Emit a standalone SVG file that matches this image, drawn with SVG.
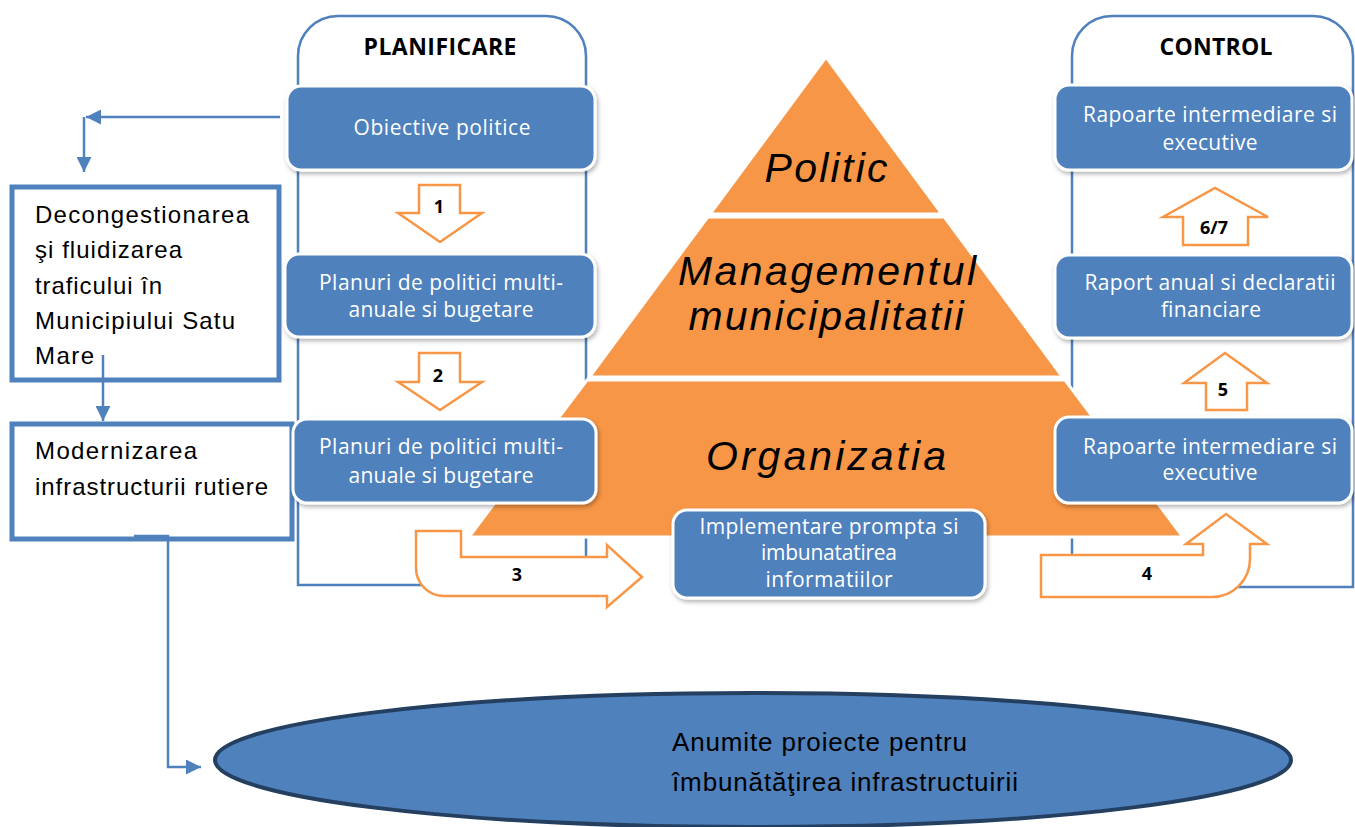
<svg xmlns="http://www.w3.org/2000/svg" width="1355" height="827" viewBox="0 0 1355 827">
<defs>
<style>
.cont{fill:#fff;stroke:#4F81BD;stroke-width:2.5}
.layer{fill:#F79646;stroke:#fff;stroke-width:3}
.barrow{fill:#fff;stroke:#F79646;stroke-width:2.5;stroke-linejoin:miter}
.box{fill:#4F81BD;stroke:#fff;stroke-width:3;filter:url(#sh)}
.bt{font-family:"Open Sans","Liberation Sans",sans-serif;font-size:21px;fill:#fff;text-anchor:middle}
.hd{font-family:"Open Sans","Liberation Sans",sans-serif;font-size:23px;font-weight:700;fill:#000;text-anchor:middle}
.num{font-family:"Open Sans","Liberation Sans",sans-serif;font-size:18px;font-weight:700;fill:#000;text-anchor:middle}
.pt{font-family:"Liberation Sans",sans-serif;font-style:italic;font-size:41px;fill:#000;text-anchor:middle}
.lt{font-family:"Liberation Sans",Arial,sans-serif;font-size:24px;fill:#000}
.et{font-family:"Liberation Sans",Arial,sans-serif;font-size:26px;fill:#000}
.lbox{fill:#fff;stroke:#4F81BD;stroke-width:5}
.con{fill:none;stroke:#4F81BD;stroke-width:2.5}
</style>
<filter id="sh" x="-10%" y="-10%" width="125%" height="135%">
<feDropShadow dx="1.5" dy="2.5" stdDeviation="2" flood-color="#000" flood-opacity="0.3"/>
</filter>
<marker id="ah" viewBox="0 0 10 10" refX="10" refY="5" markerWidth="6" markerHeight="6" markerUnits="strokeWidth" orient="auto">
<path d="M0,0 L10,5 L0,10 Z" fill="#4F81BD"/>
</marker>
</defs>

<g id="planificare">
<path class="cont" d="M298,585 V56 A40,40 0 0 1 338,16 H546 A40,40 0 0 1 586,56 V585 Z"/>
<text class="hd" x="440" y="55" textLength="153">PLANIFICARE</text>
</g>
<g id="control">
<path class="cont" d="M1072,587 V56 A40,40 0 0 1 1112,16 H1313 A40,40 0 0 1 1353,56 V587 Z"/>
<text class="hd" x="1216" y="55" textLength="113">CONTROL</text>
</g>

<g id="pyramid">
<polygon class="layer" points="826,57 942,214 710,214"/>
<polygon class="layer" points="707.7,217 944.3,217 1062.6,377 589.4,377"/>
<polygon class="layer" points="587,380 1065,380 1183,537 469,537"/>
<text class="pt" x="826" y="182" textLength="123">Politic</text>
<text class="pt" x="827" y="285" textLength="298">Managementul</text>
<text class="pt" x="826" y="330" textLength="275">municipalitatii</text>
<text class="pt" x="826" y="470" textLength="240">Organizatia</text>
</g>

<g id="decongestionarea">
<rect class="lbox" x="12" y="187" width="267" height="193"/>
<text class="lt" x="35" y="223" textLength="214">Decongestionarea</text>
<text class="lt" x="35" y="258" textLength="147">şi fluidizarea</text>
<text class="lt" x="35" y="294" textLength="127">traficului în</text>
<text class="lt" x="35" y="329" textLength="200">Municipiului Satu</text>
<text class="lt" x="35" y="364" textLength="59">Mare</text>
</g>

<g id="modernizarea">
<rect class="lbox" x="12" y="424" width="280" height="115"/>
<text class="lt" x="35" y="459" textLength="162">Modernizarea</text>
<text class="lt" x="35" y="495" textLength="233">infrastructurii rutiere</text>
</g>

<g id="connectors">
<path class="con" d="M280,117 H86" marker-end="url(#ah)"/>
<path class="con" d="M84,117 V172" marker-end="url(#ah)"/>
<path class="con" d="M103,355 V421" marker-end="url(#ah)"/>
<path class="con" d="M134,536 H168 V767 H201" marker-end="url(#ah)"/>
<path class="barrow" d="M419,185 H460 V213 H482 L440,242 L398,213 H419 Z"/>
<path class="barrow" d="M419,353 H460 V382 H482 L440,410 L398,382 H419 Z"/>
<path class="barrow" d="M416,531 H461 V557 H607 V545 L642,577 L607,607 V596 H444 A28,28 0 0 1 416,568 Z"/>
<path class="barrow" d="M1041,555 H1203 V544 H1186 L1226,514 L1267,544 H1250 V559 A38,38 0 0 1 1212,597 H1041 Z"/>
<path class="barrow" d="M1206,410 V383 H1184 L1225,353 L1267,383 H1247 V410 Z"/>
<path class="barrow" d="M1183,245 V217 H1163 L1215,188 L1268,217 H1248 V245 Z"/>
<text class="num" x="439" y="213">1</text>
<text class="num" x="438" y="382">2</text>
<text class="num" x="517" y="581">3</text>
<text class="num" x="1147" y="580">4</text>
<text class="num" x="1223" y="396">5</text>
<text class="num" x="1214" y="234">6/7</text>
</g>

<g id="obiective">
<rect class="box" x="287" y="86" width="308" height="84" rx="14"/>
<text class="bt" x="442" y="135" textLength="177">Obiective politice</text>
</g>
<g id="planuri1">
<rect class="box" x="285" y="254" width="310" height="83" rx="14"/>
<text class="bt" x="441" y="290" textLength="244">Planuri de politici multi-</text>
<text class="bt" x="441" y="317" textLength="185">anuale si bugetare</text>
</g>
<g id="planuri2">
<rect class="box" x="293" y="419" width="303" height="84" rx="14"/>
<text class="bt" x="441" y="454" textLength="244">Planuri de politici multi-</text>
<text class="bt" x="441" y="483" textLength="185">anuale si bugetare</text>
</g>
<g id="implementare">
<rect class="box" x="673" y="510" width="312" height="88" rx="14"/>
<text class="bt" x="829" y="534" textLength="259">Implementare prompta si</text>
<text class="bt" x="829" y="560" textLength="136">imbunatatirea</text>
<text class="bt" x="829" y="587" textLength="127">informatiilor</text>
</g>
<g id="rapoarte1">
<rect class="box" x="1055" y="85" width="297" height="85" rx="14"/>
<text class="bt" x="1210" y="122" textLength="254">Rapoarte intermediare si</text>
<text class="bt" x="1210" y="150" textLength="95">executive</text>
</g>
<g id="raport-anual">
<rect class="box" x="1055" y="255" width="297" height="83" rx="14"/>
<text class="bt" x="1210" y="290" textLength="251">Raport anual si declaratii</text>
<text class="bt" x="1211" y="317" textLength="100">financiare</text>
</g>
<g id="rapoarte2">
<rect class="box" x="1055" y="417" width="297" height="86" rx="14"/>
<text class="bt" x="1210" y="454" textLength="254">Rapoarte intermediare si</text>
<text class="bt" x="1210" y="480" textLength="95">executive</text>
</g>

<g id="proiecte">
<ellipse cx="753" cy="760" rx="538" ry="67" fill="#4F81BD" stroke="#243F60" stroke-width="4"/>
<text class="et" x="672" y="751" textLength="295">Anumite proiecte pentru</text>
<text class="et" x="672" y="791" textLength="346">îmbunătăţirea infrastructuirii</text>
</g>
</svg>
